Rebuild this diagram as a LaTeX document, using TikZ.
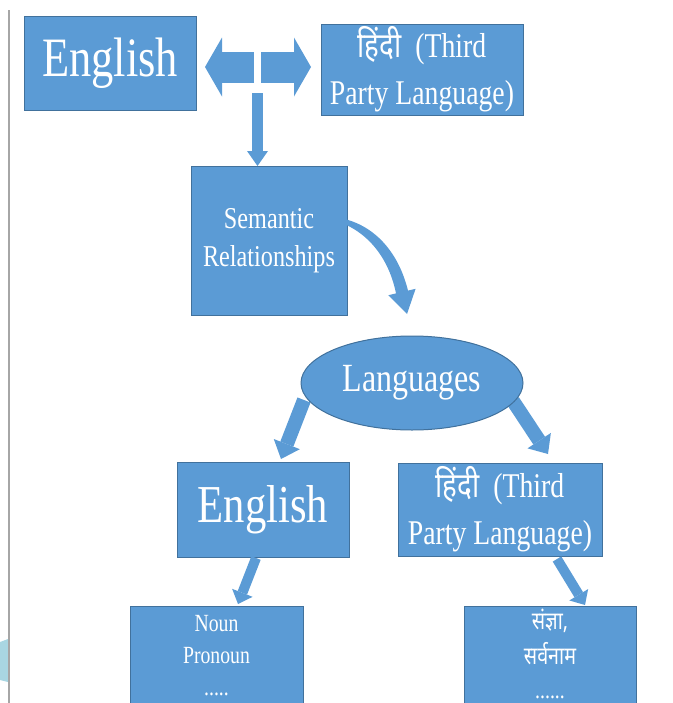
\documentclass[tikz,border=0pt]{standalone}
\usepackage{fontspec}
\setmainfont{Liberation Serif}[FakeStretch=0.8]
\newfontfamily\deva[Script=Devanagari,FakeStretch=0.8]{Noto Sans}
\usetikzlibrary{arrows.meta,shapes.geometric}
\definecolor{boxfill}{HTML}{5B9BD5}
\definecolor{boxline}{HTML}{41719C}
\definecolor{rulegray}{HTML}{A6A6A6}
\definecolor{deco}{HTML}{A9D6E2}
\begin{document}
\begin{tikzpicture}[x=0.75pt,y=-0.75pt,
  box/.style 2 args={draw=boxline, fill=boxfill, line width=0.75pt, text=white,
    inner sep=0pt, outer sep=0pt, align=center,
    minimum width=#1*0.75pt, minimum height=#2*0.75pt},
  boxtext/.style={text=white, inner sep=0pt, align=center},
  wideArrow/.style={draw=boxfill, line width=23.25pt,
    -{Triangle[length=12.75pt 0, width=44.25pt 0, line width=0pt]}},
  downArrow/.style={draw=boxfill, line width=8.25pt,
    -{Triangle[length=11.25pt 0, width=15.75pt 0, line width=0pt]}},
  midArrow/.style={draw=boxfill, line width=10.5pt,
    -{Triangle[length=12pt 0, width=21pt 0, line width=0pt]}},
  smallArrow/.style={draw=boxfill, line width=7.5pt,
    -{Triangle[length=9pt 0, width=16.5pt 0, line width=0pt]}}
]
\useasboundingbox (0,0) rectangle (673,703);
\clip (0,0) rectangle (673,703);

% left page rule and decoration
\fill[deco] (0,642) -- (8,639) -- (8,682) -- (0,680) -- cycle;
\draw[rulegray, line width=1.5pt] (9,10) -- (9,703);

% boxes
\node[box={172}{94}, font=\fontsize{41.7}{50}\selectfont] (eng1) at (110,63) {English};
\node[box={202}{91}, font=\fontsize{26}{35}\selectfont] (hin1) at (422,69.5)
  {{\deva हिंदी}\ \ (Third\\Party Language)};
\node[box={156}{149}, font=\fontsize{22.7}{28.5}\selectfont] (sem) at (269,240.5)
  {Semantic\\Relationships};
\node[box={172}{95}, font=\fontsize{40}{48}\selectfont] (eng2) at (263,509.5) {English};
\node[box={204}{93}, font=\fontsize{26}{35}\selectfont] (hin2) at (500,509.5)
  {{\deva हिंदी}\ \ (Third\\Party Language)};
\node[box={173}{102}] (noun) at (216.5,657) {};
\node[boxtext, font=\fontsize{18.5}{24}\selectfont] (nountext) at (216.5,656)
  {Noun\\Pronoun\\.....};
\node[box={172}{102}] (sanj) at (550,657) {};
\node[boxtext, font=\fontsize{18.5}{26}\selectfont] (sanjtext) at (550,654)
  {{\deva संज्ञा,}\\{\deva सर्वनाम}\\......};

% top double arrow and down arrow
\coordinate (lsplit) at (254,67);
\coordinate (rsplit) at (261,67);
\coordinate (ltip) at (205,67);
\coordinate (rtip) at (311,67);
\coordinate (dtop) at (257.5,93);
\draw[wideArrow] (lsplit) -- (ltip);
\draw[wideArrow] (rsplit) -- (rtip);
\draw[downArrow] (dtop) -- (dtop |- sem.north);

% curved arrow from Semantic Relationships to Languages
\fill[boxfill] (327,216.5) .. controls (367,218) and (397,246) .. (408,290.6)
  -- (415.6,288.8) -- (407,314) -- (388.4,295.2) -- (396,293.4)
  .. controls (388,254) and (363,226) .. (327,218.5) -- cycle;

% arrows from the ellipse
\coordinate (la) at (304,400);
\coordinate (latip) at (281,459);
\coordinate (ra) at (513,401);
\coordinate (ratip) at (548,454);
\draw[midArrow] (la) -- (latip);
\draw[midArrow] (ra) -- (ratip);

\node[ellipse, draw=boxline, fill=boxfill, line width=0.75pt, text=white, inner sep=0pt,
  minimum width=222*0.75pt, minimum height=94*0.75pt,
  font=\fontsize{30}{36}\selectfont] (lang) at (412,383) {Languages};

% arrows to bottom boxes
\coordinate (lb) at (256,558);
\coordinate (lbtip) at (238,604);
\coordinate (rb) at (557,559);
\coordinate (rbtip) at (585,605);
\draw[smallArrow] (lb) -- (lbtip);
\draw[smallArrow] (rb) -- (rbtip);
\end{tikzpicture}
\end{document}
